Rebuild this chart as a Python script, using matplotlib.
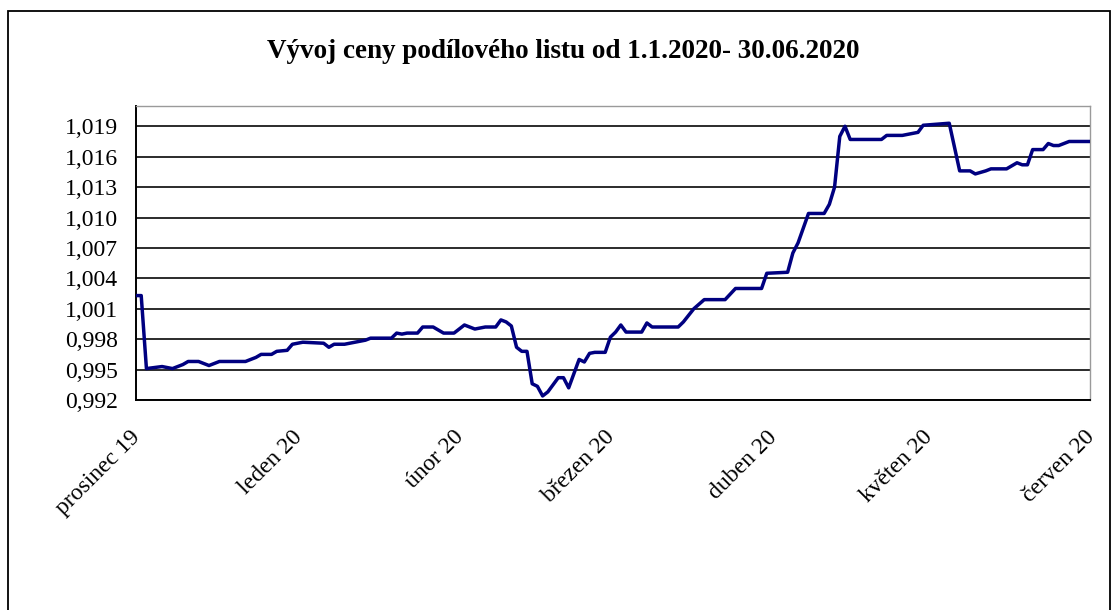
import numpy as np
import pandas as pd
import matplotlib
matplotlib.use("Agg")
import matplotlib.pyplot as plt
import matplotlib.transforms as mtransforms
from matplotlib.ticker import FuncFormatter
from matplotlib.patches import Rectangle

plt.rcParams["font.family"] = ["Liberation Serif", "DejaVu Serif"]

# ── data ──────────────────────────────────────────────────────────────────────
dates = [
    "2019-12-01", "2019-12-02", "2019-12-03", "2019-12-06", "2019-12-08",
    "2019-12-10", "2019-12-11", "2019-12-13", "2019-12-15", "2019-12-17",
    "2019-12-22", "2019-12-24", "2019-12-25", "2019-12-27", "2019-12-28",
    "2019-12-30", "2019-12-31",
    "2020-01-02", "2020-01-06", "2020-01-07", "2020-01-08", "2020-01-10",
    "2020-01-12", "2020-01-14", "2020-01-15", "2020-01-19", "2020-01-20",
    "2020-01-21", "2020-01-22", "2020-01-24", "2020-01-25", "2020-01-27",
    "2020-01-29", "2020-01-31",
    "2020-02-02", "2020-02-04", "2020-02-06", "2020-02-08", "2020-02-09",
    "2020-02-10", "2020-02-11", "2020-02-12", "2020-02-13", "2020-02-14",
    "2020-02-15", "2020-02-16", "2020-02-17", "2020-02-18", "2020-02-20",
    "2020-02-21", "2020-02-22", "2020-02-24", "2020-02-25", "2020-02-26",
    "2020-02-27", "2020-02-29",
    "2020-03-01", "2020-03-02", "2020-03-03", "2020-03-04", "2020-03-07",
    "2020-03-08", "2020-03-09", "2020-03-14", "2020-03-15", "2020-03-17",
    "2020-03-19", "2020-03-23", "2020-03-25", "2020-03-30", "2020-03-31",
    "2020-04-04", "2020-04-05", "2020-04-06", "2020-04-08", "2020-04-11",
    "2020-04-12", "2020-04-13", "2020-04-14", "2020-04-15", "2020-04-16",
    "2020-04-22", "2020-04-23", "2020-04-26", "2020-04-29", "2020-04-30",
    "2020-05-05", "2020-05-07", "2020-05-09", "2020-05-10", "2020-05-12",
    "2020-05-13", "2020-05-16", "2020-05-18", "2020-05-19", "2020-05-20",
    "2020-05-21", "2020-05-23", "2020-05-24", "2020-05-25", "2020-05-26",
    "2020-05-28", "2020-06-01",
]
prices = [
    1.0023, 1.0023, 0.9951, 0.9953, 0.9951,
    0.9955, 0.9958, 0.9958, 0.9954, 0.9958,
    0.9958, 0.9962, 0.9965, 0.9965, 0.9968,
    0.9969, 0.9975,
    0.9977, 0.9976, 0.9972, 0.9975, 0.9975,
    0.9977, 0.9979, 0.9981, 0.9981, 0.9986,
    0.9985, 0.9986, 0.9986, 0.9992, 0.9992,
    0.9986, 0.9986,
    0.9994, 0.9990, 0.9992, 0.9992, 0.9999,
    0.9997, 0.9993, 0.9972, 0.9968, 0.9968,
    0.9936, 0.99335, 0.9924, 0.9928, 0.9942,
    0.9942, 0.9932, 0.9960, 0.99575, 0.9966,
    0.9967, 0.9967,
    0.9982, 0.9987, 0.9994, 0.9987, 0.9987,
    0.9996, 0.9992, 0.9992, 0.9997, 1.0010,
    1.0019, 1.0019, 1.0030, 1.0030, 1.0045,
    1.0046, 1.0065, 1.0075, 1.0104, 1.0104,
    1.0113, 1.0130, 1.0180, 1.0190, 1.0177,
    1.0177, 1.0181, 1.0181, 1.0184, 1.0191,
    1.0193, 1.0146, 1.0146, 1.0143, 1.0146,
    1.0148, 1.0148, 1.0154, 1.0152, 1.0152,
    1.0167, 1.0167, 1.0173, 1.0171, 1.0171,
    1.0175, 1.0175,
]
month_ticks = ["2019-12-01", "2020-01-01", "2020-02-01", "2020-03-01",
               "2020-04-01", "2020-05-01", "2020-06-01"]
month_labels = ["prosinec 19", "leden 20", "únor 20", "březen 20",
                "duben 20", "květen 20", "červen 20"]
y_ticks = [0.992, 0.995, 0.998, 1.001, 1.004, 1.007, 1.010, 1.013, 1.016, 1.019]
title = "Vývoj ceny podílového listu od 1.1.2020- 30.06.2020"

x = pd.to_datetime(dates)
xt = pd.to_datetime(month_ticks)

W, H = 1112, 610
fig = plt.figure(figsize=(W / 100, H / 100), dpi=100)
ax = fig.add_axes([136 / W, 1 - 400 / H, 954 / W, 294 / H])

# outer chart frame (bottom edge is cut off in the reference)
fig.patches.append(Rectangle((8 / W, -0.05), (1110 - 8) / W, 1.05 - 11 / H,
                             transform=fig.transFigure, fill=False,
                             edgecolor="black", lw=1.3))

ax.plot(x, prices, color="#000080", lw=2.5, solid_joinstyle="round", zorder=3)

ax.set_ylim(0.992, 1.021)
ax.set_yticks(y_ticks)
ax.yaxis.set_major_formatter(FuncFormatter(lambda v, p: f"{v:.3f}".replace(".", ",")))
ax.yaxis.grid(True, color="#2b2b2b", lw=1.4)
ax.set_axisbelow(True)

ax.set_xlim(xt[0], xt[-1])
ax.set_xticks(xt)
ax.set_xticklabels(month_labels, rotation=45, ha="right", va="top",
                   rotation_mode="anchor")

ax.tick_params(axis="both", length=0, labelsize=17, colors="black")
ax.tick_params(axis="y", pad=13)
ax.tick_params(axis="x", pad=12)

# nudge the rotated month labels to where they sit in the reference
shift = mtransforms.ScaledTranslation(-6 / 100, -10 / 100, fig.dpi_scale_trans)
for lbl in ax.get_xticklabels():
    lbl.set_transform(lbl.get_transform() + shift)

for s in ["left", "bottom"]:
    ax.spines[s].set_color("black")
    ax.spines[s].set_linewidth(1.4)
for s in ["top", "right"]:
    ax.spines[s].set_color("#9a9a9a")
    ax.spines[s].set_linewidth(1.0)

fig.text(563 / W, 1 - 51 / H, title, ha="center", va="center",
         fontsize=19.5, fontweight="bold")

fig.savefig("out.png", dpi=100)
